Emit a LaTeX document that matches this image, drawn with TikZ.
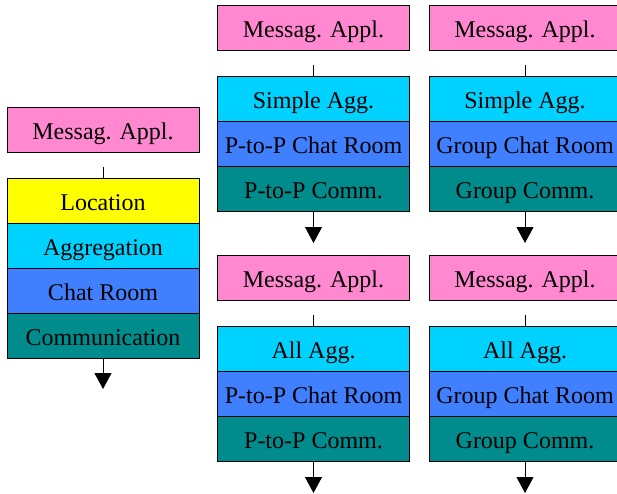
\documentclass[tikz,border=0pt]{standalone}
\usepackage{fontspec}
\setmainfont{Liberation Serif}
\usetikzlibrary{arrows.meta}

\definecolor{applpink}{RGB}{255,136,208}
\definecolor{locyellow}{RGB}{255,255,0}
\definecolor{aggcyan}{RGB}{0,210,255}
\definecolor{roomblue}{RGB}{64,128,255}
\definecolor{commteal}{RGB}{0,140,140}

\begin{document}
\begin{tikzpicture}[x=1pt,y=-1pt,
  box/.style={draw=black,line width=0.8pt,minimum width=192pt,minimum height=45pt,
    inner sep=0pt,text height=22pt,text depth=3pt,anchor=north,
    font=\fontsize{24}{28}\selectfont},
  down/.style={-{Triangle[width=17pt,length=16pt]},line width=0.8pt}]

  \clip (0,0) rectangle (617,494);

  % single stack
  \node (a0) at (103,107) [box,fill=applpink] {Messag. Appl.};
  \node (a1) at (103,178) [box,fill=locyellow] {Location};
  \node (a2) at (103,223) [box,fill=aggcyan] {Aggregation};
  \node (a3) at (103,268) [box,fill=roomblue] {Chat Room};
  \node (a4) at (103,313) [box,fill=commteal] {Communication};
  \coordinate (a5) at (103,389);
  \draw [line width=0.8pt,shorten <=14pt] (a0) -- (a1);
  \draw [down] (a4) -- (a5);

  % the four variants
  \foreach \x/\y/\n/\agg/\kind in {313.5/5/b/Simple/P-to-P,525/5/c/Simple/Group,
                                   313.5/255/d/All/P-to-P,525/255/e/All/Group}
  {
    \node (\n0) at (\x,\y) [box,fill=applpink] {Messag. Appl.};
    \node (\n1) at (\x,\y+71) [box,fill=aggcyan] {\agg{} Agg.};
    \node (\n2) at (\x,\y+116) [box,fill=roomblue] {\kind{} Chat Room};
    \node (\n3) at (\x,\y+161) [box,fill=commteal] {\kind{} Comm.};
    \coordinate (\n4) at (\x,\y+238);
    \draw [line width=0.8pt,shorten <=14pt] (\n0) -- (\n1);
    \draw [down] (\n3) -- (\n4);
  }

\end{tikzpicture}
\end{document}
